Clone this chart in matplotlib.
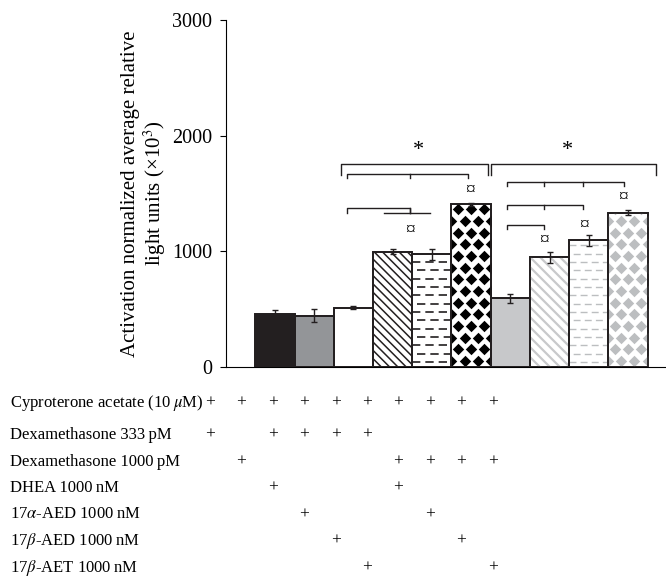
import matplotlib
matplotlib.use("Agg")
import matplotlib.pyplot as plt
import numpy as np

plt.rcParams["font.family"] = ["Liberation Serif", "DejaVu Serif"]
plt.rcParams["mathtext.fontset"] = "stix"

# bar heights (x10^3 RLU) and error bars
values = [455, 443, 513, 995, 974, 1406, 594, 948, 1095, 1334]
errors = [35, 55, 15, 22, 50, 15, 40, 45, 45, 22]

row_labels = [
    "Cyproterone acetate (10\u2009$\\mu$M)",
    "Dexamethasone 333\u2009pM",
    "Dexamethasone 1000\u2009pM",
    "DHEA 1000\u2009nM",
    "17$\\alpha$-AED 1000\u2009nM",
    "17$\\beta$-AED 1000\u2009nM",
    "17$\\beta$-AET 1000\u2009nM",
]
# which of the 10 columns get a "+" in each row
row_plus = [
    list(range(10)),
    [0, 2, 3, 4, 5],
    [1, 6, 7, 8, 9],
    [2, 6],
    [3, 7],
    [4, 8],
    [5, 9],
]

# significance brackets: (x start, x end, y, inner ticks, drop)
brackets = [
    (1.68, 5.43, 1754, [], 90),
    (5.52, 9.71, 1754, [], 90),
    (1.83, 4.93, 1665, [3.43], 30),
    (1.83, 3.43, 1371, [3.43], 40),
    (5.92, 8.89, 1596, [6.85, 7.85], 30),
    (5.92, 7.85, 1400, [6.85], 30),
    (5.92, 6.85, 1227, [], 30),
]
plain_lines = [(2.79, 3.95, 1328)]
stars = [(3.65, 1875), (7.47, 1875)]
currency_marks = [(3.44, 1184), (4.97, 1524), (6.86, 1098), (7.88, 1227), (8.88, 1467)]

fig = plt.figure(figsize=(6.66, 5.77), dpi=100)
ax = fig.add_axes([226 / 666, 1 - 367 / 577, 1 - 226 / 666, (367 - 20) / 577])

x = np.arange(len(values))
w = 1.0
edge = "#231f20"
ax.set_xlim(-1.25, 9.97)
ax.set_ylim(0, 3000)

fills = ["#231f20", "#939598", "white", "white", "white", "white",
         "#c7c8ca", "white", "white", "white"]
ax.bar(x, values, width=w, color=fills, edgecolor=edge, linewidth=1.3, zorder=2)


def clip_to(artist, i):
    rect = plt.Rectangle((x[i] - w / 2, 0), w, values[i], transform=ax.transData)
    artist.set_clip_path(rect)


# pixel scale of the data axes, used for the fill patterns
px_x = (666 - 226) / (9.97 + 1.25)   # pixels per x unit
px_y = (367 - 20) / 3000             # pixels per y unit

# diagonal hatch fills (down-right lines)
for i, col, lw, gap in [(3, edge, 1.1, 8.3), (7, "#c8c9cb", 1.6, 10.0)]:
    slope = -px_x / px_y
    span = values[i] / -slope
    for x0 in np.arange(x[i] - w / 2 - span, x[i] + w / 2 + gap / px_x, gap / px_x):
        ln, = ax.plot([x0, x0 + span + w], [values[i], values[i] + slope * (span + w)],
                      color=col, lw=lw, zorder=2.5, solid_capstyle="butt")
        clip_to(ln, i)

# dashed horizontal fills
for i, col, lw in [(4, edge, 1.2), (8, "#bcbec0", 1.0)]:
    step = 72
    for k, yy in enumerate(np.arange(step * 0.6, values[i], step)):
        off = 0 if k % 2 == 0 else 5
        ln, = ax.plot([x[i] - w / 2, x[i] + w / 2], [yy, yy], color=col, lw=lw,
                      linestyle=(off, (5, 3)), zorder=2.5)
        clip_to(ln, i)

# diamond checker fills
for i, col in [(5, "black"), (9, "#bcbec0")]:
    dx = w / 3
    dy = 101
    pts_x, pts_y = [], []
    for k, yy in enumerate(np.arange(dy * 0.5, values[i] + dy, dy)):
        shift = 0 if k % 2 == 0 else dx / 2
        for xx in np.arange(x[i] - w / 2 - dx + shift, x[i] + w / 2 + dx, dx):
            pts_x.append(xx)
            pts_y.append(yy)
    sc = ax.scatter(pts_x, pts_y, marker="D", s=34, color=col, linewidths=0, zorder=2.5)
    clip_to(sc, i)

# outlines on top
ax.bar(x, values, width=w, fill=False, edgecolor=edge, linewidth=1.3, zorder=3)
ax.errorbar(x, values, yerr=errors, fmt="none", ecolor=edge, elinewidth=1.0,
            capsize=2, capthick=1.0, zorder=4)

for x0, x1, yb, ticks, drop in brackets:
    ax.plot([x0, x0, x1, x1], [yb - drop, yb, yb, yb - drop], color=edge, lw=1.0)
    for t in ticks:
        ax.plot([t, t], [yb, yb - drop], color=edge, lw=1.0)
for x0, x1, yb in plain_lines:
    ax.plot([x0, x1], [yb, yb], color=edge, lw=1.0)
for sx, sy in stars:
    ax.text(sx, sy, "*", ha="center", va="center", fontsize=16)
for cx, cy in currency_marks:
    ax.text(cx, cy, "\u00a4", ha="center", va="center", fontsize=14)

ax.set_yticks([0, 1000, 2000, 3000])
ax.set_xticks([])
ax.spines["top"].set_visible(False)
ax.spines["right"].set_visible(False)
ax.tick_params(axis="y", labelsize=14.5, length=4, pad=6, direction="out")
ax.set_ylabel("Activation normalized average relative\nlight units (\u00d710$^3$)",
              fontsize=15, linespacing=1.05, labelpad=3)

# condition table
col_x0, col_dx = 210, 31.4
row_y = [403] + [435 + 26.5 * k for k in range(6)]
for r, (label, cols) in enumerate(zip(row_labels, row_plus)):
    yf = 1 - row_y[r] / 577
    fig.text(10 / 666, yf, label, ha="left", va="center", fontsize=12)
    for c in cols:
        fig.text((col_x0 + col_dx * c) / 666, yf, "+", ha="center", va="center",
                 fontsize=12.5)

fig.savefig("out.png", dpi=100)
